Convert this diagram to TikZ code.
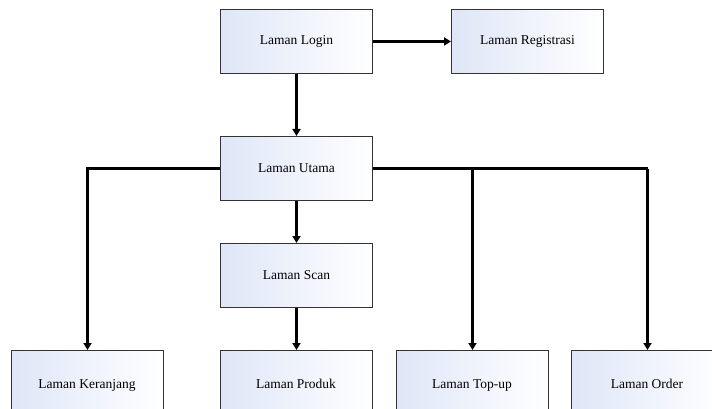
\documentclass[tikz,border=0pt]{standalone}
\usepackage{fontspec}
\setmainfont{Liberation Serif}
\usetikzlibrary{arrows.meta}
\definecolor{tint}{RGB}{222,230,247}
\begin{document}
\begin{tikzpicture}[x=1pt,y=1pt,
  page/.style={draw=black!80, line width=1pt, minimum width=152pt, minimum height=64pt,
    inner sep=0pt, left color=tint, right color=white,
    font=\fontsize{13.5}{15}\selectfont, anchor=north west},
  lbl/.style={font=\fontsize{13.5}{15}\selectfont},
  link/.style={line width=2.4pt, -{Triangle[length=7pt,width=8pt]}},
  plain/.style={line width=2.4pt}]
\path[use as bounding box] (0,0) rectangle (712,-409);
\begin{scope}
\clip (0,0) rectangle (712,-409);
\node[page] (login) at (220,-9) {Laman Login};
\node[page] (reg) at (451,-9) {Laman Registrasi};
\node[page] (utama) at (220,-136) {Laman Utama};
\node[page] (scan) at (220,-243) {Laman Scan};
\node[page] (ker) at (11,-350) {};
\node[page] (prod) at (220,-350) {};
\node[page] (top) at (396,-350) {};
\node[page] (ord) at (571,-350) {};
\node[lbl, anchor=base] (tker) at (87,-388) {Laman Keranjang};
\node[lbl, anchor=base] (tprod) at (296,-388) {Laman Produk};
\node[lbl, anchor=base] (ttop) at (472,-388) {Laman Top-up};
\node[lbl, anchor=base] (tord) at (647,-388) {Laman Order};
\end{scope}
\coordinate (jl) at (ker.north |- utama.west);
\coordinate (jt) at (top.north |- utama.east);
\coordinate (jr) at (ord.north |- utama.east);
\draw[link] (login.east) -- (reg.west);
\draw[link] (login.south) -- (utama.north);
\draw[link] (utama.south) -- (scan.north);
\draw[link] (scan.south) -- (prod.north);
\draw[link] (utama.west) -- (jl) -- (ker.north);
\draw[plain] (utama.east) -- (jr);
\draw[link] (jr) -- (ord.north);
\draw[link] (jt) -- (top.north);
\end{tikzpicture}
\end{document}
